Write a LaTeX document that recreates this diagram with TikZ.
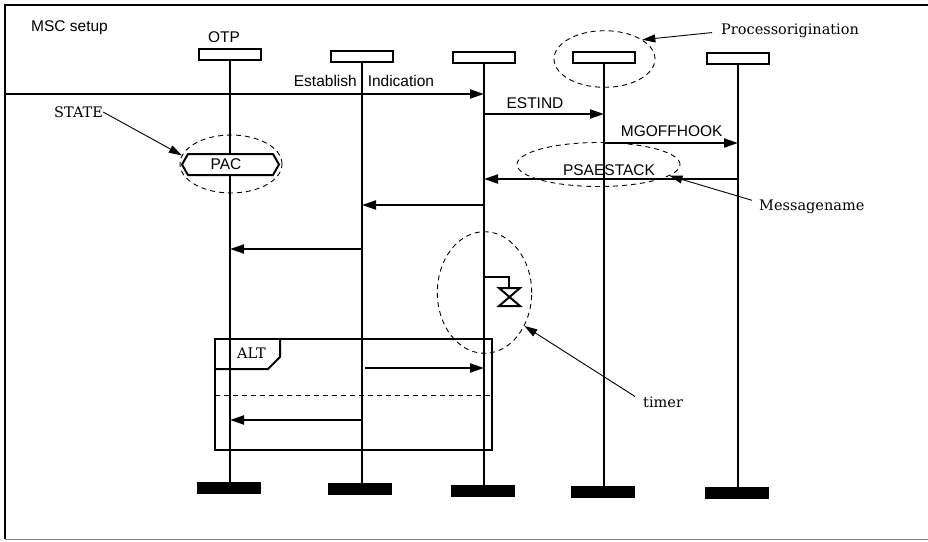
\documentclass[tikz,border=0pt]{standalone}
\usepackage{fontspec}
\newfontfamily\sansf{Liberation Sans}
\newfontfamily\seriff{DejaVu Serif}
\usetikzlibrary{arrows.meta,shapes.geometric,calc}
\begin{document}
\begin{tikzpicture}[x=1pt,y=-1pt,
  sans/.style={font=\sansf\fontsize{15.5}{18}\selectfont, inner sep=0pt},
  serif/.style={font=\seriff\fontsize{14.5}{17}\selectfont, inner sep=0pt},
  head/.style={draw, line width=2pt, fill=white, minimum width=62pt, minimum height=11pt, inner sep=0pt},
  endbar/.style={fill=black, minimum width=64pt, minimum height=12pt, inner sep=0pt},
  life/.style={line width=2pt},
  msg/.style={line width=2pt, -{Triangle[length=14pt,width=9pt]}},
  note/.style={line width=0.9pt, -{Triangle[length=13pt,width=8pt]}},
  halo/.style={ellipse, draw, dash pattern=on 5pt off 4pt, line width=0.9pt, inner sep=0pt},
  altbox/.style={line width=2pt}
]
\useasboundingbox (0,0) rectangle (928,541);
% frame
\draw[line width=2pt] (935,5) -- (5,5) -- (5,539);
\draw[gray, line width=1pt] (5,539.5) -- (935,539.5);
\node[sans, anchor=base west] (title) at (31,31) {MSC setup};

% heads
\node[head] (h1) at (230,54.5) {};
\node[head] (h2) at (362,56.5) {};
\node[head] (h3) at (484,57.5) {};
\node[head] (h4) at (604,57.5) {};
\node[head] (h5) at (738,58.5) {};
\node[sans, anchor=base] (otp) at (224,42.3) {OTP};

% end bars
\node[endbar] (e1) at (229,488) {};
\node[endbar] (e2) at (360,489) {};
\node[endbar] (e3) at (483,491) {};
\node[endbar] (e4) at (603,492) {};
\node[endbar] (e5) at (737,493) {};

% lifelines
\foreach \i in {1,...,5} {
  \draw[life] (h\i.south) -- (h\i.south |- e\i.north);
}

% messages
\coordinate (fl) at (5,94);
\draw[msg] (fl) -- (fl -| h3.south);
\node[sans, anchor=base] (lEI) at (364,86.5) {Establish\hspace{11pt}Indication};

\draw[msg] (h3.south |- 0,114) -- (h4.south |- 0,114);
\node[sans, anchor=base] (lES) at (535,108.3) {ESTIND};

\draw[msg] (h4.south |- 0,143) -- (h5.south |- 0,143);
\node[sans, anchor=base] (lMG) at (671.7,136.5) {MGOFFHOOK};

\draw[msg] (h5.south |- 0,179) -- (h3.south |- 0,179);
\node[sans, anchor=base] (lPS) at (609,175) {PSAESTACK};

\draw[msg] (h3.south |- 0,205) -- (h2.south |- 0,205);
\draw[msg] (h2.south |- 0,249) -- (h1.south |- 0,249);

% state PAC
\draw[line width=2pt, fill=white, line join=miter]
  (182,164.5) -- (188,154) -- (273,154) -- (279,164.5) -- (273,175) -- (188,175) -- cycle;
\node[sans] (pac) at (226,164.5) {PAC};

% timer
\coordinate (t0) at (h3.south |- 0,277);
\draw[life] (t0) -- (509,277) -- (509,288);
\draw[life, line join=miter] (499,288) -- (520,288) -- (499,306) -- (520,306) -- cycle;

% ALT frame
\draw[altbox] (215,339) rectangle (492,450);
\draw[altbox] (215,369) -- (268,369) -- (280,357) -- (280,339);
\node[serif, anchor=base] (lALT) at (251.5,358.3) {ALT};
\draw[line width=1pt, dash pattern=on 5pt off 4pt] (215,395.5) -- (492,395.5);
\draw[msg] ($(h2.south |- 0,368)+(3,0)$) -- (h3.south |- 0,368);
\draw[msg] (h2.south |- 0,420) -- (h1.south |- 0,420);

% dashed highlight ellipses
\node[halo, minimum width=102pt, minimum height=58pt] (pacel) at (231,164) {};
\node[halo, minimum width=101pt, minimum height=56.6pt] (poel) at (604.5,59) {};
\node[halo, minimum width=163pt, minimum height=44pt] (psel) at (598.5,164.5) {};
\node[halo, minimum width=94.4pt, minimum height=121.6pt] (tmel) at (484.5,292.5) {};

% annotations
\node[serif, anchor=base west] (lSTATE) at (54,117.3) {STATE};
\draw[note] (lSTATE.east) -- (pacel.170);
\node[serif, anchor=base west] (lPO) at (721,34.3) {Processorigination};
\draw[note] ($(lPO.west)+(-9,2)$) -- (poel.27);
\node[serif, anchor=base west] (lMN) at (759,210) {Messagename};
\draw[note] ($(lMN.west)+(-7,-6)$) -- (psel.-9);
\node[serif, anchor=base west] (lTM) at (643,407.7) {timer};
\draw[note] ($(lTM.west)+(-8,-6)$) -- (tmel.-40);
\end{tikzpicture}
\end{document}
